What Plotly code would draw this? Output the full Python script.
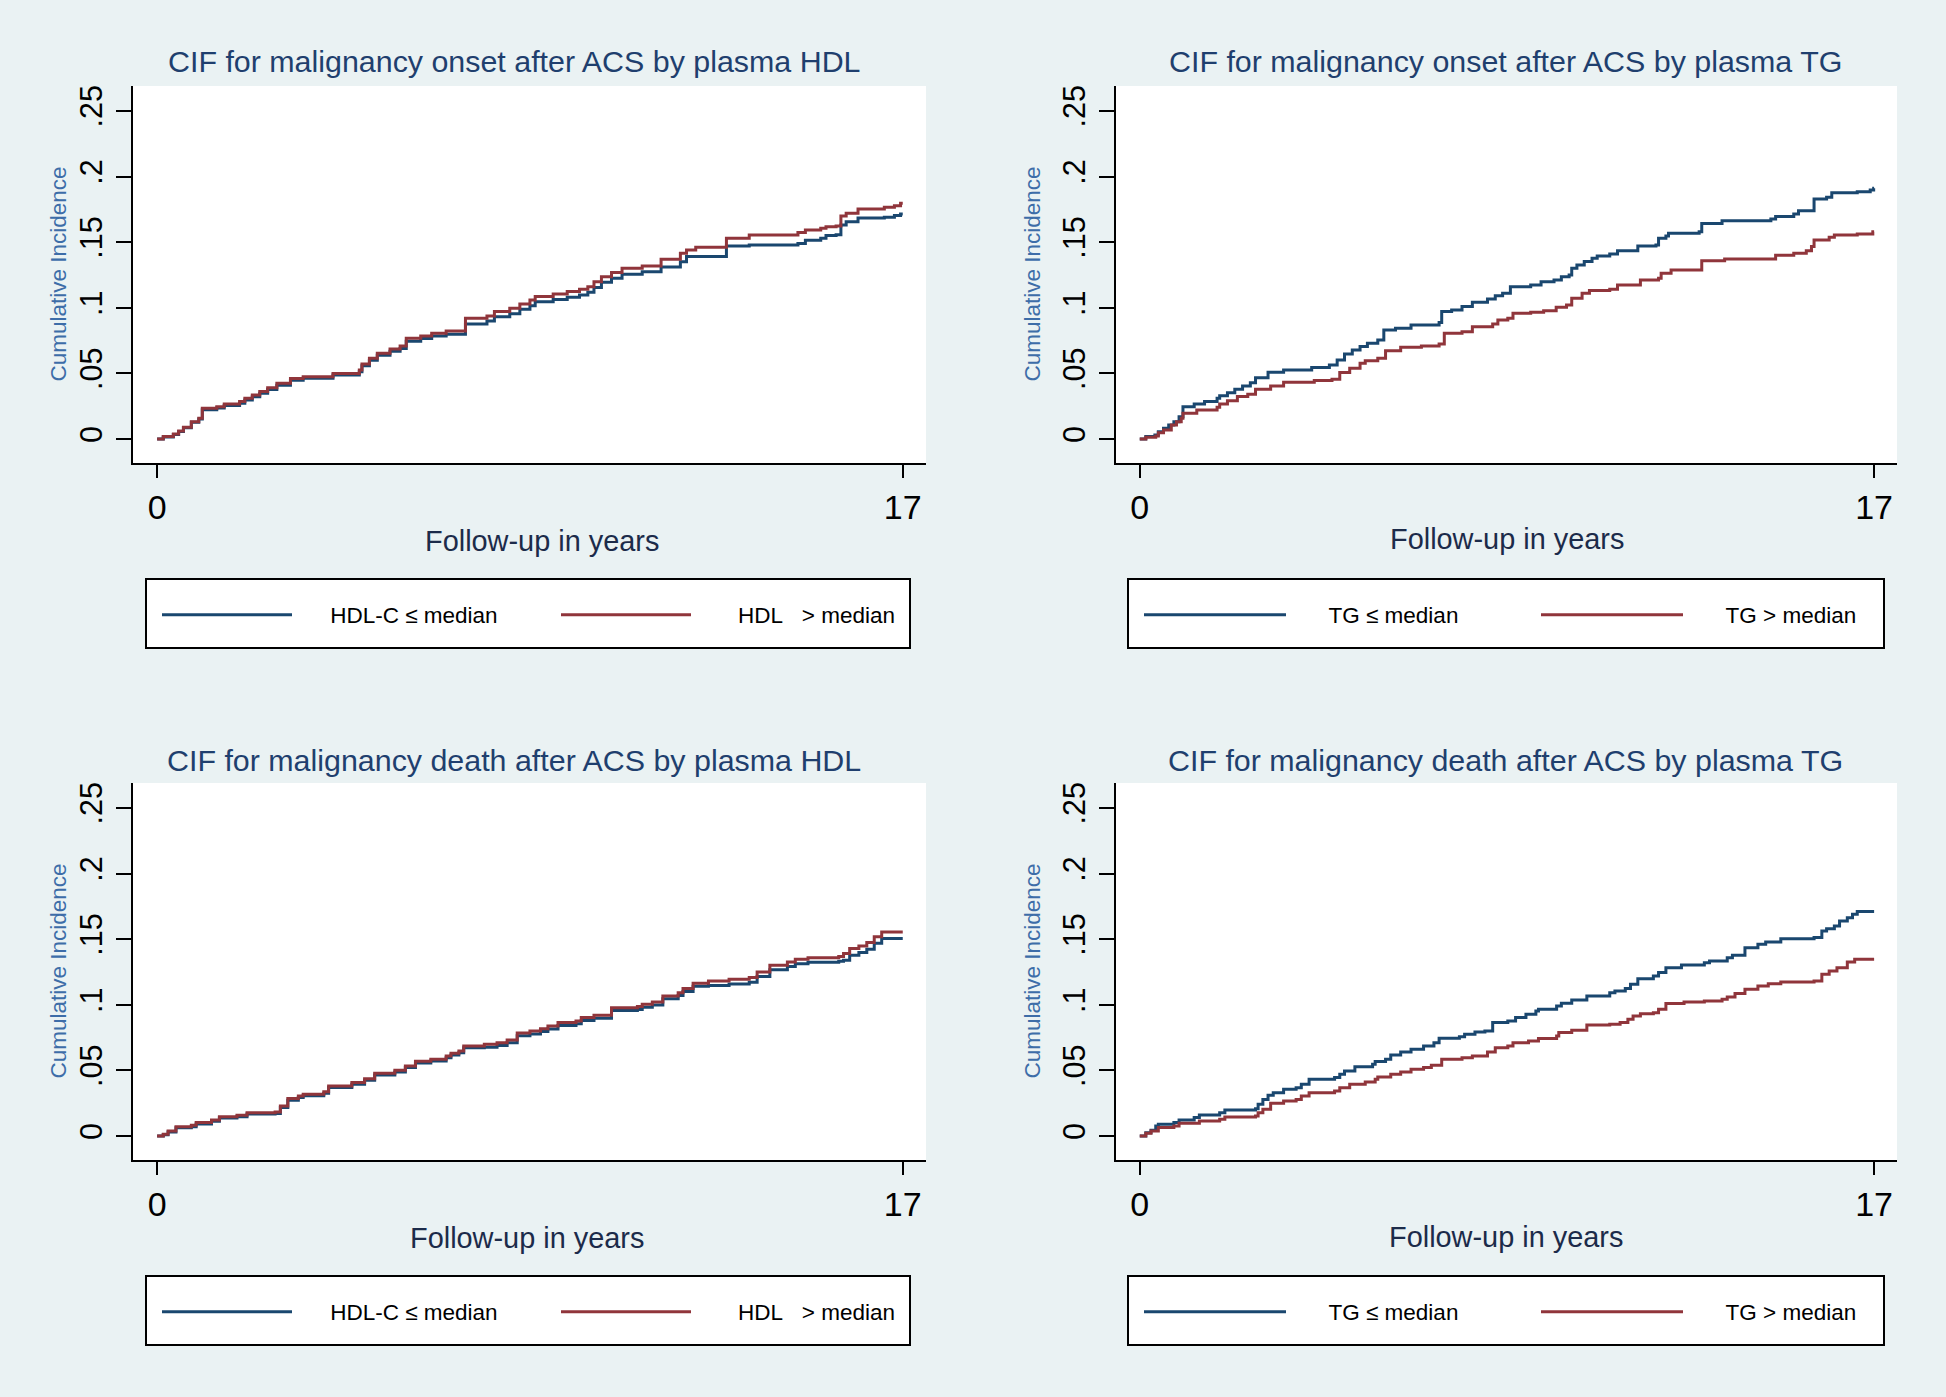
import plotly.graph_objects as go

W, H = 1946, 1397
FONT = "Liberation Sans, Arial, sans-serif"
NAVY = "#1a476f"
MAROON = "#90353b"
BG = "#eaf2f3"
GRID = "#e3edef"

TITLES = [
    "CIF for malignancy onset after ACS by plasma HDL",
    "CIF for malignancy onset after ACS by plasma TG",
    "CIF for malignancy death after ACS by plasma HDL",
    "CIF for malignancy death after ACS by plasma TG",
]
X_TITLE = "Follow-up in years"
Y_TITLE = "Cumulative Incidence"
X_TICKS = [0, 17]
Y_TICKS = [0, 0.05, 0.1, 0.15, 0.2, 0.25]
Y_TICK_TEXT = ["0", ".05", ".1", ".15", ".2", ".25"]
GRID_VALUES = [0, 0.05, 0.1, 0.15, 0.2]
HDL_LABELS = ["HDL-C \u2264 median", "HDL\u00a0\u00a0\u00a0> median"]
TG_LABELS = ["TG \u2264 median", "TG > median"]

# malignancy onset, HDL groups (shared event times)
ONSET_HDL_T = [0, 0.14, 0.37, 0.49, 0.60, 0.78, 0.95, 1.03, 1.36, 1.53, 1.88, 2.00, 2.17, 2.34, 2.52, 2.73,
               3.04, 3.33, 4.01, 4.61, 4.67, 4.84, 5.02, 5.31, 5.54, 5.68, 6.01, 6.26, 6.59, 7.03, 7.52, 7.69,
               8.04, 8.27, 8.50, 8.62, 9.03, 9.35, 9.63, 9.82, 9.96, 10.13, 10.36, 10.60, 11.06, 11.49, 11.93,
               12.07, 12.28, 12.98, 13.50, 14.61, 14.78, 15.13, 15.25, 15.48, 15.59, 15.71, 15.98, 16.58, 16.81,
               16.95, 17.0]
ONSET_HDL_LOW = [0, .0015, .0035, .0058, .0085, .0128, .0152, .0222, .0236, .0256, .0273, .0297, .0322, .0348,
                 .0378, .0410, .0448, .0462, .0487, .0513, .0558, .0600, .0638, .0668, .0690, .0745, .0765, .0785,
                 .0798, .0876, .0900, .0932, .0955, .0988, .1016, .1045, .1063, .1080, .1098, .1118, .1155, .1195,
                 .1225, .1255, .1275, .1310, .1350, .1390, .1390, .1471, .1478, .1490, .1515, .1530, .1550, .1557,
                 .1630, .1655, .1684, .1690, .1703, .1715, .1715]
ONSET_HDL_HIGH = [0, .0018, .0038, .0061, .0089, .0132, .0158, .0234, .0246, .0267, .0285, .0310, .0335, .0361,
                  .0391, .0424, .0460, .0475, .0500, .0526, .0572, .0615, .0653, .0686, .0709, .0767, .0785, .0805,
                  .0823, .0920, .0938, .0971, .0996, .1029, .1059, .1085, .1105, .1123, .1141, .1161, .1199, .1237,
                  .1268, .1301, .1319, .1369, .1415, .1441, .1461, .1529, .1555, .1573, .1593, .1606, .1618, .1623,
                  .1700, .1720, .1753, .1766, .1778, .1796, .1796]

# malignancy onset, TG groups
ONSET_TG_LOW_T = [0, 0.14, 0.35, 0.43, 0.55, 0.67, 0.79, 0.91, 1.00, 1.26, 1.50, 1.79, 1.85, 2.03, 2.20, 2.38,
                  2.56, 2.68, 2.97, 3.33, 3.98, 4.39, 4.57, 4.74, 4.92, 5.10, 5.27, 5.51, 5.65, 5.92, 6.28, 6.93,
                  6.99, 7.22, 7.46, 7.70, 8.05, 8.23, 8.40, 8.58, 9.05, 9.29, 9.59, 9.76, 9.94, 10.00, 10.12,
                  10.29, 10.47, 10.59, 10.88, 11.06, 11.53, 11.95, 12.01, 12.18, 12.24, 12.95, 13.01, 13.48, 14.61,
                  14.72, 15.14, 15.25, 15.61, 15.90, 16.02, 16.61, 16.91, 16.99, 17.0]
ONSET_TG_LOW = [0, .0018, .0030, .0056, .0081, .0107, .0132, .0170, .0246, .0267, .0285, .0310, .0330, .0353,
                .0379, .0404, .0429, .0467, .0508, .0526, .0544, .0564, .0602, .0648, .0678, .0704, .0729, .0755,
                .0831, .0844, .0869, .0887, .0971, .0983, .1009, .1042, .1067, .1092, .1110, .1161, .1174, .1199,
                .1212, .1237, .1250, .1301, .1326, .1352, .1377, .1395, .1410, .1435, .1471, .1479, .1529, .1547,
                .1568, .1580, .1643, .1664, .1677, .1695, .1715, .1740, .1829, .1842, .1877, .1885, .1898, .1911,
                .1911]
ONSET_TG_HIGH_T = [0, 0.14, 0.37, 0.43, 0.55, 0.73, 0.85, 0.96, 1.00, 1.32, 1.79, 1.85, 2.03, 2.26, 2.50, 2.68,
                   3.03, 3.33, 4.04, 4.45, 4.63, 4.86, 5.10, 5.22, 5.51, 5.69, 6.04, 6.52, 6.93, 7.05, 7.46, 7.70,
                   8.17, 8.29, 8.52, 8.64, 9.05, 9.35, 9.64, 9.88, 10.00, 10.24, 10.41, 10.88, 11.06, 11.59, 12.01,
                   12.07, 12.30, 13.01, 13.54, 14.72, 15.14, 15.43, 15.55, 15.61, 15.96, 16.08, 16.61, 16.97, 17.0]
ONSET_TG_HIGH = [0, .0013, .0023, .0048, .0069, .0107, .0132, .0158, .0196, .0221, .0241, .0267, .0292, .0323,
                 .0340, .0379, .0404, .0432, .0445, .0455, .0506, .0539, .0577, .0597, .0615, .0673, .0699, .0709,
                 .0724, .0805, .0818, .0856, .0877, .0907, .0920, .0958, .0965, .0978, .1004, .1021, .1072, .1110,
                 .1131, .1141, .1174, .1212, .1225, .1263, .1288, .1359, .1372, .1400, .1415, .1435, .1466, .1517,
                 .1537, .1555, .1562, .1580, .1580]

# malignancy death, HDL groups (shared event times)
DEATH_HDL_T = [0, 0.14, 0.25, 0.43, 0.78, 0.89, 1.24, 1.42, 1.82, 2.05, 2.69, 2.81, 2.98, 3.22, 3.33, 3.80, 3.91,
               4.44, 4.73, 4.96, 5.42, 5.66, 5.89, 6.24, 6.59, 6.70, 6.88, 6.99, 7.46, 7.75, 7.98, 8.21, 8.50, 8.74,
               8.91, 9.14, 9.55, 9.67, 9.96, 10.36, 10.95, 11.06, 11.29, 11.53, 11.88, 11.99, 12.22, 12.57, 13.04,
               13.50, 13.68, 13.97, 14.37, 14.55, 14.84, 15.54, 15.65, 15.79, 16.00, 16.18, 16.35, 16.52, 17.0]
DEATH_HDL_LOW = [0, .0010, .0030, .0062, .0071, .0092, .0112, .0137, .0147, .0167, .0172, .0218, .0273, .0293,
                 .0306, .0326, .0369, .0395, .0424, .0465, .0488, .0521, .0556, .0571, .0597, .0617, .0635, .0672,
                 .0677, .0689, .0710, .0763, .0778, .0796, .0816, .0842, .0855, .0880, .0898, .0956, .0964, .0982,
                 .0999, .1045, .1070, .1101, .1142, .1146, .1159, .1172, .1215, .1266, .1291, .1312, .1324, .1332,
                 .1340, .1378, .1398, .1424, .1469, .1505, .1505]
DEATH_HDL_HIGH = [0, .0013, .0038, .0071, .0081, .0102, .0122, .0147, .0158, .0178, .0183, .0229, .0285, .0305,
                  .0318, .0338, .0381, .0407, .0437, .0478, .0501, .0534, .0569, .0584, .0610, .0630, .0648, .0686,
                  .0699, .0711, .0732, .0785, .0800, .0818, .0838, .0864, .0877, .0902, .0920, .0978, .0986, .1004,
                  .1021, .1067, .1092, .1123, .1164, .1181, .1194, .1207, .1250, .1301, .1326, .1347, .1359, .1367,
                  .1390, .1428, .1448, .1474, .1519, .1555, .1555]

# malignancy death, TG groups
DEATH_TG_LOW_T = [0, 0.14, 0.26, 0.37, 0.43, 0.79, 0.91, 1.26, 1.38, 1.85, 1.97, 2.68, 2.74, 2.85, 2.97, 3.09,
                  3.33, 3.62, 3.74, 3.92, 4.51, 4.63, 4.74, 4.98, 5.39, 5.45, 5.69, 5.81, 6.04, 6.28, 6.57, 6.81,
                  6.93, 7.40, 7.52, 7.76, 7.99, 8.17, 8.52, 8.70, 8.94, 9.17, 9.23, 9.65, 9.76, 10.00, 10.35,
                  10.88, 11.00, 11.24, 11.36, 11.53, 11.89, 12.01, 12.18, 12.54, 13.07, 13.19, 13.60, 13.72, 14.01,
                  14.31, 14.49, 14.84, 15.61, 15.79, 15.90, 16.08, 16.20, 16.38, 16.50, 16.61, 17.0]
DEATH_TG_LOW = [0, .0025, .0043, .0076, .0089, .0102, .0122, .0140, .0160, .0178, .0198, .0208, .0241, .0279,
                .0310, .0330, .0356, .0368, .0394, .0432, .0445, .0470, .0495, .0528, .0546, .0567, .0584, .0617,
                .0640, .0661, .0686, .0711, .0744, .0757, .0775, .0793, .0800, .0864, .0877, .0902, .0927, .0953,
                .0965, .0991, .1011, .1037, .1067, .1092, .1105, .1123, .1156, .1199, .1220, .1245, .1283, .1303,
                .1321, .1334, .1359, .1377, .1435, .1461, .1479, .1504, .1512, .1563, .1580, .1601, .1639, .1664,
                .1690, .1710, .1710]
DEATH_TG_HIGH_T = [0, 0.14, 0.26, 0.43, 0.79, 0.91, 1.38, 1.85, 1.97, 2.68, 2.74, 2.85, 3.03, 3.33, 3.62, 3.74,
                   3.92, 4.51, 4.63, 4.86, 5.22, 5.45, 5.51, 5.81, 6.04, 6.28, 6.57, 6.75, 6.99, 7.46, 7.70, 8.05,
                   8.23, 8.52, 8.64, 9.00, 9.23, 9.65, 9.70, 10.00, 10.35, 10.88, 11.12, 11.30, 11.42, 11.59,
                   11.89, 12.01, 12.18, 12.60, 13.07, 13.48, 13.60, 13.78, 14.01, 14.31, 14.55, 14.84, 15.61,
                   15.79, 15.96, 16.14, 16.38, 16.55, 17.0]
DEATH_TG_HIGH = [0, .0020, .0038, .0064, .0076, .0097, .0114, .0127, .0145, .0152, .0178, .0203, .0249, .0267,
                 .0279, .0305, .0330, .0343, .0368, .0394, .0412, .0432, .0450, .0470, .0488, .0508, .0521, .0539,
                 .0584, .0597, .0610, .0640, .0673, .0686, .0711, .0724, .0742, .0762, .0788, .0805, .0846, .0851,
                 .0864, .0889, .0915, .0932, .0940, .0965, .1009, .1021, .1029, .1042, .1060, .1085, .1118, .1143,
                 .1161, .1174, .1181, .1232, .1258, .1283, .1326, .1347, .1347]


def px_x(v):
    return v / W


def px_y(v):
    return 1 - v / H


NB = "\u00a0"
# pixel layout of the four panels (left, top, right, bottom of the plot region)
PANELS = [
    dict(plot=(133, 86, 926, 463), title=(514, 61.5), xtitle=(542, 540.5), ytitle=(58, 274.5),
         box=(146, 579, 910, 648), key_x=162, key_len=130, key_step=394, key_y=615,
         pads=(NB * 5 + "\u200a", NB * 6 + "\u2009"), labels=HDL_LABELS,
         low=(ONSET_HDL_T, ONSET_HDL_LOW), high=(ONSET_HDL_T, ONSET_HDL_HIGH)),
    dict(plot=(1116, 86, 1897, 463), title=(1505, 61.5), xtitle=(1507, 539), ytitle=(1032, 274.5),
         box=(1128, 579, 1884, 648), key_x=1144, key_len=142, key_step=392, key_y=615,
         pads=(NB * 6, NB * 6), labels=TG_LABELS,
         low=(ONSET_TG_LOW_T, ONSET_TG_LOW), high=(ONSET_TG_HIGH_T, ONSET_TG_HIGH)),
    dict(plot=(133, 783, 926, 1160), title=(514, 759.5), xtitle=(527, 1238), ytitle=(58, 971.5),
         box=(146, 1276, 910, 1345), key_x=162, key_len=130, key_step=394, key_y=1312,
         pads=(NB * 5 + "\u200a", NB * 6 + "\u2009"), labels=HDL_LABELS,
         low=(DEATH_HDL_T, DEATH_HDL_LOW), high=(DEATH_HDL_T, DEATH_HDL_HIGH)),
    dict(plot=(1116, 783, 1897, 1160), title=(1505, 759.5), xtitle=(1505.5, 1237), ytitle=(1032, 971.5),
         box=(1128, 1276, 1884, 1345), key_x=1144, key_len=142, key_step=392, key_y=1312,
         pads=(NB * 6, NB * 6), labels=TG_LABELS,
         low=(DEATH_TG_LOW_T, DEATH_TG_LOW), high=(DEATH_TG_HIGH_T, DEATH_TG_HIGH)),
]

X_RANGE = [-0.55, 17.53]
Y_RANGE = [-0.0183, 0.269]

fig = go.Figure()
layout = dict(
    width=W, height=H,
    margin=dict(l=0, r=0, t=0, b=0),
    paper_bgcolor=BG,
    plot_bgcolor="white",
    font=dict(family=FONT, color="black"),
    showlegend=True,
    annotations=[],
    shapes=[],
)

for i, p in enumerate(PANELS, start=1):
    sfx = "" if i == 1 else str(i)
    leg = "legend" if i == 1 else f"legend{i}"
    l, t, r, b = p["plot"]

    series = [(p["low"], NAVY, p["pads"][0] + p["labels"][0]),
              (p["high"], MAROON, p["pads"][1] + p["labels"][1])]
    for (xs, ys), color, label in series:
        fig.add_trace(go.Scatter(
            x=xs, y=ys, mode="lines", line=dict(color=color, width=3, shape="hv"),
            name=label, xaxis=f"x{sfx}", yaxis=f"y{sfx}", legend=leg,
            hoverinfo="skip",
        ))

    layout[f"xaxis{sfx}"] = dict(
        domain=[px_x(l), px_x(r)], range=X_RANGE, anchor=f"y{sfx}",
        tickmode="array", tickvals=X_TICKS, ticks="outside", ticklen=13, tickwidth=2, tickcolor="black",
        showline=True, linewidth=2, linecolor="black", showgrid=False, zeroline=False,
        tickfont=dict(size=34, color="black"), ticklabelstandoff=0, fixedrange=True,
    )
    layout[f"yaxis{sfx}"] = dict(
        domain=[px_y(b), px_y(t)], range=Y_RANGE, anchor=f"x{sfx}",
        tickmode="array", tickvals=Y_TICKS, ticktext=Y_TICK_TEXT, tickangle=-90,
        ticks="outside", ticklen=15, tickwidth=2, tickcolor="black",
        showline=True, linewidth=2, linecolor="black", showgrid=False, zeroline=False,
        tickfont=dict(size=30.5, color="black"), ticklabelstandoff=2, fixedrange=True,
    )
    # grid-only overlay axis (Stata leaves the top tick without a grid line)
    layout[f"yaxis{i + 4}"] = dict(
        overlaying=f"y{sfx}", range=Y_RANGE, anchor=f"x{sfx}",
        tickmode="array", tickvals=GRID_VALUES, showticklabels=False, ticks="",
        showgrid=True, gridcolor=GRID, gridwidth=2, showline=False, zeroline=False, fixedrange=True,
    )

    layout[leg] = dict(
        orientation="h", x=px_x(p["key_x"] - 5), y=px_y(p["key_y"]), xanchor="left", yanchor="middle",
        itemwidth=p["key_len"], entrywidth=p["key_step"] - p["key_len"] - 10, entrywidthmode="pixels",
        bgcolor="rgba(0,0,0,0)", borderwidth=0, font=dict(family=FONT, size=22.5, color="black"),
        itemclick=False, itemdoubleclick=False,
    )

    bx0, by0, bx1, by1 = p["box"]
    layout["shapes"].append(dict(
        type="rect", xref="paper", yref="paper", x0=px_x(bx0), x1=px_x(bx1), y0=px_y(by1), y1=px_y(by0),
        fillcolor="white", line=dict(color="black", width=2), layer="below",
    ))

    tx, ty = p["title"]
    layout["annotations"].append(dict(
        text=TITLES[i - 1], x=px_x(tx), y=px_y(ty), xref="paper", yref="paper",
        xanchor="center", yanchor="middle", showarrow=False,
        font=dict(family=FONT, size=30.4, color="#1f3f6e"),
    ))
    xx, xy = p["xtitle"]
    layout["annotations"].append(dict(
        text=X_TITLE, x=px_x(xx), y=px_y(xy), xref="paper", yref="paper",
        xanchor="center", yanchor="middle", showarrow=False,
        font=dict(family=FONT, size=28.9, color="#1c2b4a"),
    ))
    yx, yy = p["ytitle"]
    layout["annotations"].append(dict(
        text=Y_TITLE, x=px_x(yx), y=px_y(yy), xref="paper", yref="paper",
        xanchor="center", yanchor="middle", showarrow=False, textangle=-90,
        font=dict(family=FONT, size=22.5, color="#3d6da8"),
    ))

fig.update_layout(**layout)
fig.write_html(
    "out.html",
    config={"displayModeBar": False},
    post_script="document.body.style.margin='0';document.body.style.overflow='hidden';",
)
